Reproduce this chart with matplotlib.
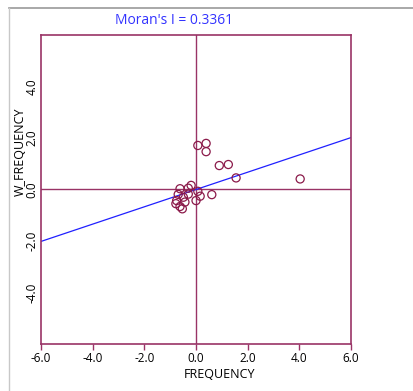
import matplotlib
matplotlib.use("Agg")
import matplotlib.pyplot as plt
from matplotlib.lines import Line2D
import numpy as np

# Data (standardized FREQUENCY vs spatial lag W_FREQUENCY)
frequency = [0.07, 0.39, 0.39, 0.90, 1.25, 1.55, 4.03, 0.61, -0.62, -0.19,
             -0.30, 0.07, 0.16, 0.00, -0.69, -0.49, -0.75, -0.78, -0.43, -0.62,
             -0.53, -0.30]
w_frequency = [1.71, 1.79, 1.47, 0.93, 0.97, 0.45, 0.41, -0.20, 0.03, 0.16,
               0.05, -0.07, -0.26, -0.43, -0.19, -0.30, -0.43, -0.55, -0.49, -0.66,
               -0.75, -0.18]
moran_i = 0.3361
x_ticks = [-6.0, -4.0, -2.0, 0.0, 2.0, 4.0, 6.0]
y_ticks = [-4.0, -2.0, 0.0, 2.0, 4.0]

plt.rcParams['font.family'] = ['Open Sans', 'DejaVu Sans']
axis_col = '#993366'
pt_col = '#8b1a4a'

fig = plt.figure(figsize=(4.14, 3.91), dpi=100)
ax = fig.add_axes([0.099, 0.1202, 0.749, 0.7903])
ax.set_xlim(-6, 6)
ax.set_ylim(-6, 6)

for s in ax.spines.values():
    s.set_color(axis_col)
    s.set_linewidth(1.2)

ax.axhline(0, color=axis_col, lw=1.0, zorder=1)
ax.axvline(0, color=axis_col, lw=1.0, zorder=1)

xs = np.array([-6, 6])
ax.plot(xs, moran_i * xs, color='#2020ff', lw=0.9, zorder=2)

ax.scatter(frequency, w_frequency, s=34, facecolors='none', edgecolors=pt_col,
           linewidths=0.9, zorder=3)

ax.set_xticks(x_ticks)
ax.set_xticklabels([f"{v:.1f}" for v in x_ticks], fontsize=8.5)
ax.set_yticks(y_ticks)
ax.set_yticklabels([f"{v:.1f}" for v in y_ticks], fontsize=8.5, rotation=90, va='center')
ax.tick_params(axis='x', length=4, color=axis_col, width=1.0, pad=2)
ax.tick_params(axis='y', length=0, pad=2)

fig.text(220 / 414, 1 - 374 / 391, "FREQUENCY", ha='center', va='center', fontsize=9)
fig.text(20 / 414, 1 - 152 / 391, "W_FREQUENCY", ha='center', va='center',
         fontsize=9, rotation=90)
fig.text(174 / 414, 1 - 21 / 391, "Moran's I = 0.3361", ha='center', va='center',
         fontsize=10, color='#3333ff')

# outer window frame
fig.add_artist(Line2D([9 / 414, 1], [1 - 8 / 391, 1 - 8 / 391], color='#9a9a9a', lw=1.2,
                      transform=fig.transFigure))
fig.add_artist(Line2D([9 / 414, 9 / 414], [0, 1 - 8 / 391], color='#c8c8c8', lw=1.0,
                      transform=fig.transFigure))

fig.savefig("out.png", dpi=100)
